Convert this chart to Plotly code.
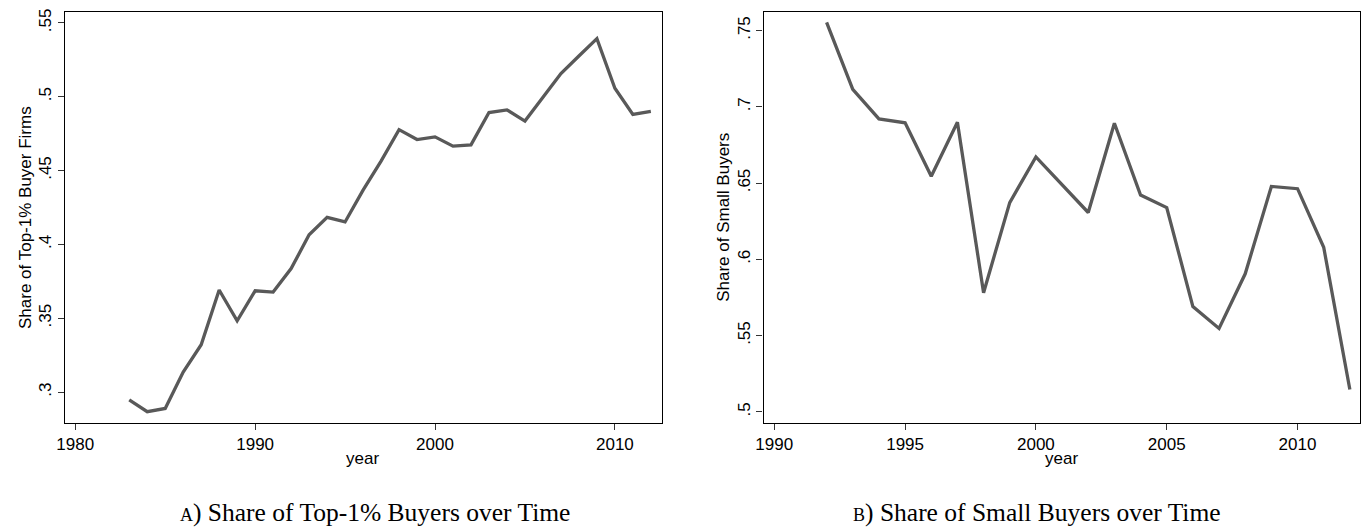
import plotly.graph_objects as go

# ---- data ----
years_a = list(range(1983, 2013))
share_top1 = [0.2947, 0.2867, 0.2889, 0.3136, 0.3321, 0.3691, 0.3483, 0.3686, 0.3677, 0.3836,
              0.4065, 0.4183, 0.4152, 0.4367, 0.4564, 0.4777, 0.4710, 0.4728, 0.4665, 0.4674,
              0.4893, 0.4911, 0.4835, 0.4994, 0.5157, 0.5276, 0.5393, 0.5057, 0.4880, 0.4900]

years_b = list(range(1992, 2013))
share_small = [0.7554, 0.7114, 0.6921, 0.6895, 0.6545, 0.6899, 0.5781, 0.6372, 0.6671, 0.6491,
               0.6307, 0.6892, 0.6422, 0.6339, 0.5690, 0.5547, 0.5905, 0.6478, 0.6463, 0.6079,
               0.5146]

xticks_a = [1980, 1990, 2000, 2010]
yticks_a = [0.30, 0.35, 0.40, 0.45, 0.50, 0.55]
yticklabels_a = [".3", ".35", ".4", ".45", ".5", ".55"]

xticks_b = [1990, 1995, 2000, 2005, 2010]
yticks_b = [0.50, 0.55, 0.60, 0.65, 0.70, 0.75]
yticklabels_b = [".5", ".55", ".6", ".65", ".7", ".75"]

ytitle_a = "Share of Top-1% Buyer Firms"
ytitle_b = "Share of Small Buyers"
xtitle = "year"
caption_a = "<span style='font-size:18px'>A</span>) Share of Top-1% Buyers over Time"
caption_b = "<span style='font-size:18px'>B</span>) Share of Small Buyers over Time"

# ---- layout constants ----
W, H = 1366, 529
LINE = "#595959"
SANS = "Liberation Sans, Arial, sans-serif"
SERIF = "Liberation Serif, Times New Roman, serif"


def px(xp):
    return xp / W


def py(yp):
    return 1 - yp / H


fig = go.Figure()
fig.add_trace(go.Scatter(x=years_a, y=share_top1, mode="lines",
                         line=dict(color=LINE, width=3.3), xaxis="x", yaxis="y",
                         showlegend=False, hoverinfo="x+y"))
fig.add_trace(go.Scatter(x=years_b, y=share_small, mode="lines",
                         line=dict(color=LINE, width=3.3), xaxis="x2", yaxis="y2",
                         showlegend=False, hoverinfo="x+y"))

axis_common = dict(showline=True, linecolor="black", linewidth=1.2, mirror=True,
                   showgrid=False, zeroline=False, ticks="outside", ticklen=6,
                   tickwidth=1, tickcolor="#333333",
                   tickfont=dict(family=SANS, size=17, color="black"))

fig.update_layout(
    width=W, height=H,
    margin=dict(l=0, r=0, t=0, b=0),
    paper_bgcolor="white", plot_bgcolor="white",
    xaxis=dict(domain=[px(57), px(657.5)], range=[1979.41, 2012.6],
               tickvals=xticks_a, anchor="y", **axis_common),
    yaxis=dict(domain=[py(421.7), py(8.3)], range=[0.2794, 0.5572],
               tickvals=yticks_a, ticktext=yticklabels_a, tickangle=-90,
               anchor="x", **axis_common),
    xaxis2=dict(domain=[px(760), px(1359.5)], range=[1989.59, 2012.37],
                tickvals=xticks_b, anchor="y2", **axis_common),
    yaxis2=dict(domain=[py(421.7), py(8.3)], range=[0.493, 0.762],
                tickvals=yticks_b, ticktext=yticklabels_b, tickangle=-90,
                anchor="x2", **axis_common),
)

ann = []
ann.append(dict(x=px(17.7), y=py(215), xref="paper", yref="paper", text=ytitle_a,
                textangle=-90, showarrow=False, xanchor="center", yanchor="middle",
                font=dict(family=SANS, size=17, color="black")))
ann.append(dict(x=px(719.7), y=py(215), xref="paper", yref="paper", text=ytitle_b,
                textangle=-90, showarrow=False, xanchor="center", yanchor="middle",
                font=dict(family=SANS, size=17, color="black")))
ann.append(dict(x=px(357), y=py(458), xref="paper", yref="paper", text=xtitle,
                showarrow=False, xanchor="center", yanchor="middle",
                font=dict(family=SANS, size=17, color="black")))
ann.append(dict(x=px(1060), y=py(458), xref="paper", yref="paper", text=xtitle,
                showarrow=False, xanchor="center", yanchor="middle",
                font=dict(family=SANS, size=17, color="black")))
ann.append(dict(x=px(369), y=py(512), xref="paper", yref="paper", text=caption_a,
                showarrow=False, xanchor="center", yanchor="middle",
                font=dict(family=SERIF, size=25.5, color="black")))
ann.append(dict(x=px(1035), y=py(512), xref="paper", yref="paper", text=caption_b,
                showarrow=False, xanchor="center", yanchor="middle",
                font=dict(family=SERIF, size=25.5, color="black")))
fig.update_layout(annotations=ann)

# remove the page's default body margin so the figure sits at the window's top-left corner
fig.write_html("out.html",
               config={"displayModeBar": False},
               post_script="document.body.style.margin='0';"
                           "document.body.style.overflow='hidden';")
